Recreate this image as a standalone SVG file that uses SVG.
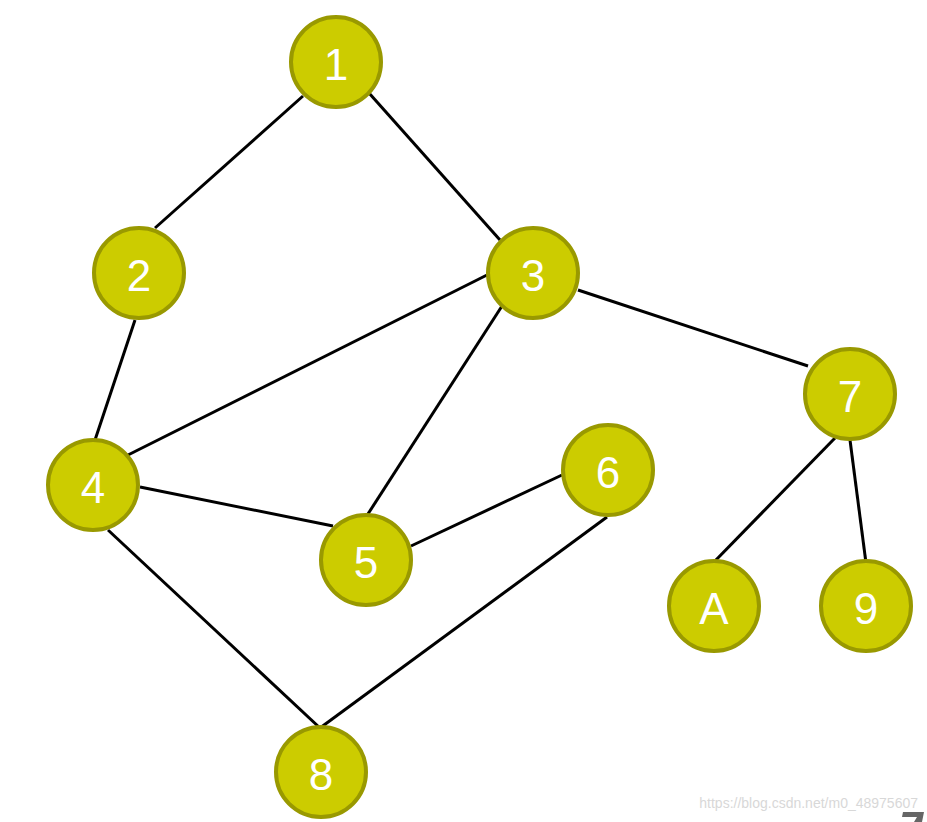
<svg xmlns="http://www.w3.org/2000/svg" width="927" height="822" viewBox="0 0 927 822">
<style>
.n circle{fill:#cccc00;stroke:#999900;stroke-width:4}
.n text{font-family:"Liberation Sans",Arial,sans-serif;font-size:44px;fill:#fff;text-anchor:middle;dominant-baseline:central}
#edges line{stroke:#000;stroke-width:3}
</style>
<rect width="927" height="822" fill="#fff"/>
<g id="edges">
<line x1="303" y1="96" x2="155" y2="228"/>
<line x1="369" y1="93" x2="500" y2="240"/>
<line x1="578" y1="290" x2="808" y2="366"/>
<line x1="487" y1="275" x2="122" y2="458"/>
<line x1="502" y1="306" x2="366" y2="517"/>
<line x1="135" y1="320" x2="95" y2="440"/>
<line x1="140" y1="487" x2="333" y2="526"/>
<line x1="108" y1="530" x2="320" y2="728"/>
<line x1="411" y1="546" x2="562" y2="475"/>
<line x1="607" y1="517" x2="320" y2="728"/>
<line x1="835" y1="438" x2="714" y2="562"/>
<line x1="850" y1="440" x2="866" y2="563"/>
</g>
<g id="n1" class="n"><circle cx="336" cy="62" r="45"/><text x="336" y="64">1</text></g>
<g id="n2" class="n"><circle cx="139" cy="273" r="45"/><text x="139" y="275">2</text></g>
<g id="n3" class="n"><circle cx="533" cy="273" r="45"/><text x="533" y="275">3</text></g>
<g id="n4" class="n"><circle cx="93" cy="485" r="45"/><text x="93" y="487">4</text></g>
<g id="n5" class="n"><circle cx="366" cy="560" r="45"/><text x="366" y="562">5</text></g>
<g id="n6" class="n"><circle cx="608" cy="470" r="45"/><text x="608" y="472">6</text></g>
<g id="n7" class="n"><circle cx="850" cy="394" r="45"/><text x="850" y="396">7</text></g>
<g id="nA" class="n"><circle cx="714" cy="606" r="45"/><text x="714" y="608">A</text></g>
<g id="n9" class="n"><circle cx="866" cy="606" r="45"/><text x="866" y="608">9</text></g>
<g id="n8" class="n"><circle cx="321" cy="772" r="45"/><text x="321" y="774">8</text></g>
<text x="918" y="808" font-family="Liberation Sans,Arial,sans-serif" font-size="14" fill="#d8d8d8" text-anchor="end">https://blog.csdn.net/m0_48975607</text>
<polygon points="903,812 924,812 922,822 914,822 917,817 902,817" fill="#666"/>
</svg>
